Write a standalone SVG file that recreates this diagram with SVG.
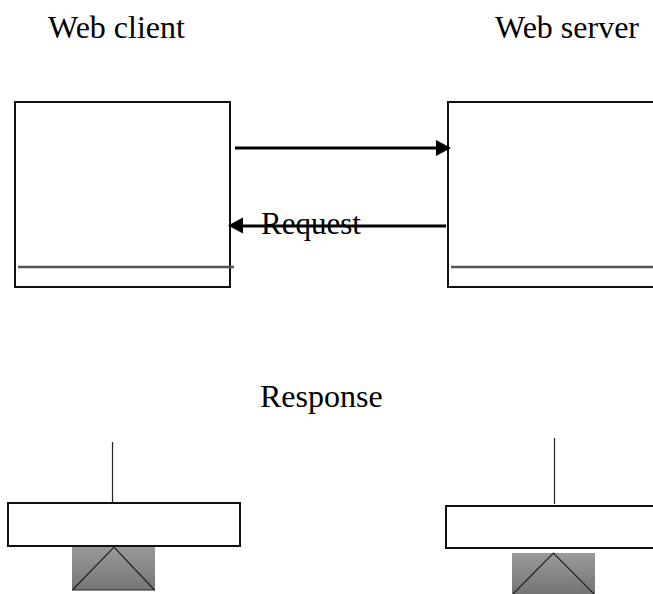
<svg xmlns="http://www.w3.org/2000/svg" width="653" height="594" viewBox="0 0 653 594">
<style>
.t{font-family:"Liberation Serif","Times New Roman",serif;font-size:32px;fill:#000}
.box{fill:#fff;stroke:#111;stroke-width:2}
.rule{stroke:#555;stroke-width:2.500;fill:none}
.conn{stroke:#000;stroke-width:3;fill:none}
.thin{stroke:#222;stroke-width:1.200;fill:none}
.base{fill:url(#g)}
</style>
<defs>
<linearGradient id="g" x1="0" y1="0" x2="0" y2="1"><stop offset="0" stop-color="#9a9a9a"/><stop offset="1" stop-color="#757575"/></linearGradient>
</defs>
<rect width="653" height="594" fill="#fff"/>
<g id="web-client">
<rect class="box" x="15" y="102" width="215" height="185"/>
<line class="rule" x1="18" y1="267" x2="234" y2="267"/>
<text class="t" x="48" y="38">Web client</text>
</g>
<g id="web-server">
<rect class="box" x="448" y="102" width="210" height="185"/>
<line class="rule" x1="451" y1="267" x2="653" y2="267"/>
<text class="t" x="495" y="38">Web server</text>
</g>
<g id="connectors">
<line class="conn" x1="235" y1="148" x2="438" y2="148"/>
<polygon points="436,140 451,148 436,156" fill="#000"/>
<line class="conn" x1="446" y1="226" x2="242" y2="226"/>
<polygon points="243,217.500 228,225.500 243,233.500" fill="#000"/>
</g>
<text class="t" x="261" y="234" style="font-size:31px">Request</text>
<text class="t" x="260" y="407">Response</text>
<g id="client-device">
<line class="thin" x1="112.500" y1="442" x2="112.500" y2="503"/>
<rect class="base" x="72" y="546" width="83" height="44"/>
<path class="thin" d="M72.500 590 114 547 154.500 590"/>
<line class="thin" x1="72" y1="590" x2="155" y2="590"/>
<rect class="box" x="8" y="503" width="232" height="43"/>
</g>
<g id="server-device">
<line class="thin" x1="554.500" y1="438" x2="554.500" y2="504"/>
<rect class="base" x="512" y="553" width="83" height="41"/>
<path class="thin" d="M513 594 553.500 553 594 594"/>
<rect class="box" x="446" y="506" width="212" height="42"/>
</g>
</svg>
